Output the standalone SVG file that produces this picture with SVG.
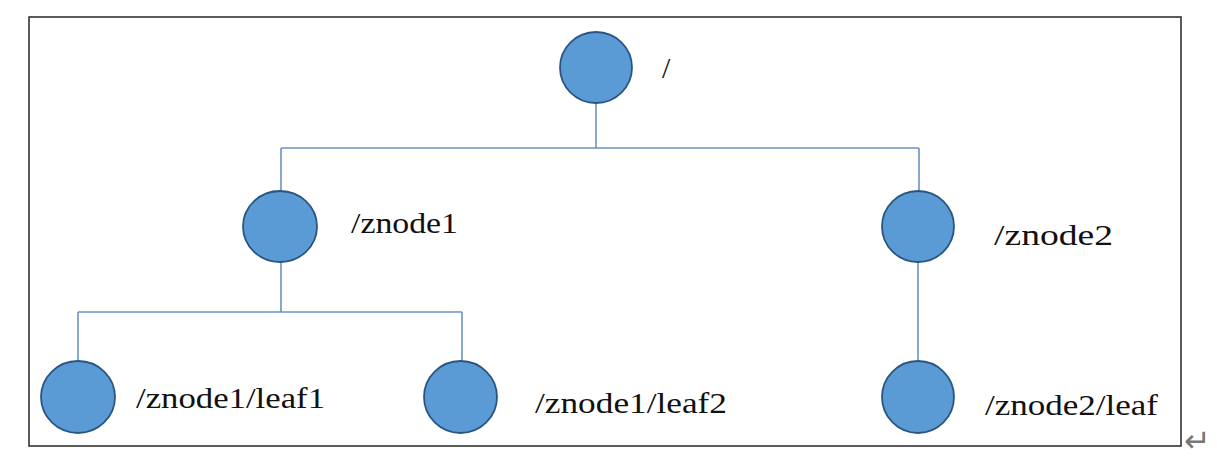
<svg xmlns="http://www.w3.org/2000/svg" width="1217" height="462" viewBox="0 0 1217 462">
<style>
.node circle, .node ellipse { fill: #5b9bd5; stroke: #2a5580; stroke-width: 1.8; }
.lbl { font-family: "Liberation Serif", "Times New Roman", serif; font-size: 30px; fill: #111; }
.conn { fill: none; stroke: #6b93c3; stroke-width: 1.6; }
</style>
<rect x="0" y="0" width="1217" height="462" fill="#ffffff"/>
<rect id="frame" x="29" y="17" width="1152" height="429" fill="none" stroke="#333" stroke-width="1.6"/>
<g id="connectors">
  <path class="conn" d="M596 103 V148 M281 148 H919 M281 148 V191 M919 148 V191"/>
  <path class="conn" d="M281 262 V312 M78 312 H462 M78 312 V361 M462 312 V361"/>
  <path class="conn" d="M918 262 V361"/>
</g>
<g id="root" class="node">
  <ellipse cx="596" cy="67.5" rx="36" ry="35.5"/>
  <text class="lbl" x="662" y="78">/</text>
</g>
<g id="znode1" class="node">
  <ellipse cx="280" cy="226.5" rx="37" ry="35.5"/>
  <text class="lbl" x="351" y="233" textLength="107" lengthAdjust="spacingAndGlyphs">/znode1</text>
</g>
<g id="znode2" class="node">
  <ellipse cx="918" cy="226.5" rx="36" ry="35.5"/>
  <text class="lbl" x="994" y="245" textLength="119" lengthAdjust="spacingAndGlyphs">/znode2</text>
</g>
<g id="leaf1" class="node">
  <ellipse cx="78" cy="397" rx="37" ry="36"/>
  <text class="lbl" x="136" y="408" textLength="189" lengthAdjust="spacingAndGlyphs">/znode1/leaf1</text>
</g>
<g id="leaf2" class="node">
  <ellipse cx="460.5" cy="397" rx="36.5" ry="36"/>
  <text class="lbl" x="535" y="413" textLength="192" lengthAdjust="spacingAndGlyphs">/znode1/leaf2</text>
</g>
<g id="leaf" class="node">
  <ellipse cx="918" cy="397" rx="36" ry="36"/>
  <text class="lbl" x="985" y="415" textLength="173" lengthAdjust="spacingAndGlyphs">/znode2/leaf</text>
</g>
<text x="1184" y="452" font-family="DejaVu Sans, sans-serif" font-size="32" fill="#777">↵</text>
</svg>
